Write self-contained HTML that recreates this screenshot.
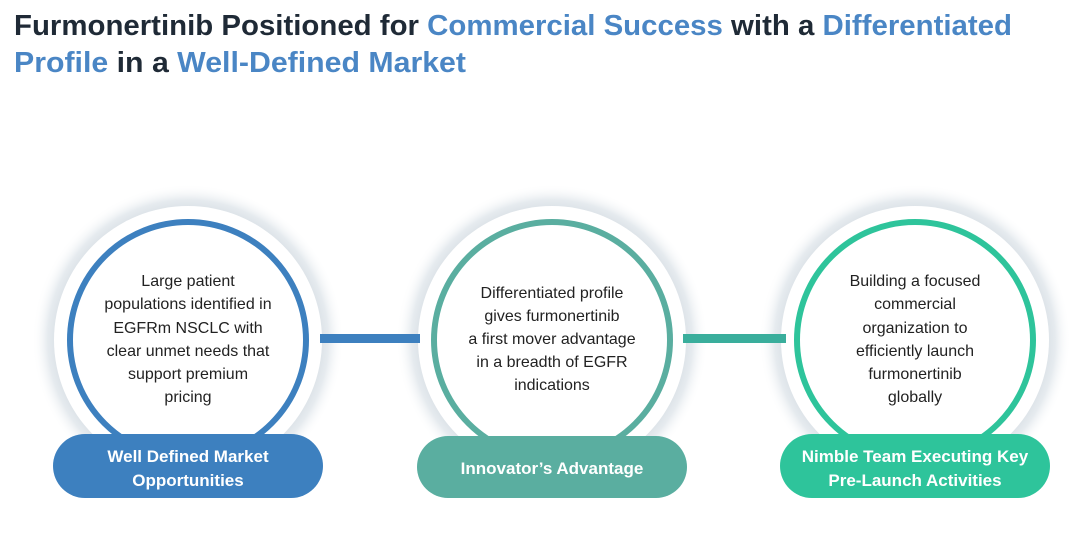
<!DOCTYPE html>
<html><head><meta charset="utf-8"><style>
html,body{margin:0;padding:0;background:#fff;width:1080px;height:553px;overflow:hidden}
svg{display:block}
</style></head><body>
<svg width="1080" height="553" viewBox="0 0 1080 553" xmlns="http://www.w3.org/2000/svg" font-family="'Liberation Sans', sans-serif">
<defs>
<radialGradient id="halo" cx="0.5" cy="0.5" r="0.5">
<stop offset="0.78" stop-color="#cfd7de"/><stop offset="0.9" stop-color="#e6ebef"/><stop offset="1" stop-color="#ffffff" stop-opacity="0"/>
</radialGradient>
</defs>
<text x="14" y="35" font-size="29" font-weight="bold" fill="#1f2a36" textLength="998" lengthAdjust="spacingAndGlyphs">Furmonertinib Positioned for <tspan fill="#4a86c5">Commercial Success</tspan> with a <tspan fill="#4a86c5">Differentiated</tspan></text>
<text x="14" y="72" font-size="29" font-weight="bold" fill="#4a86c5" textLength="452" lengthAdjust="spacingAndGlyphs">Profile <tspan fill="#1f2a36">in a </tspan>Well-Defined Market</text>

<rect x="300" y="334" width="150" height="9" fill="#3d80bf"/>
<rect x="660" y="334" width="150" height="9" fill="#3aae9c"/>

<circle cx="188" cy="340" r="156" fill="url(#halo)"/>
<circle cx="552" cy="340" r="156" fill="url(#halo)"/>
<circle cx="915" cy="340" r="156" fill="url(#halo)"/>
<circle cx="188" cy="340" r="134" fill="#fff"/>
<circle cx="552" cy="340" r="134" fill="#fff"/>
<circle cx="915" cy="340" r="134" fill="#fff"/>
<circle cx="188" cy="340" r="118" fill="#fff" stroke="#3d80bf" stroke-width="6"/>
<circle cx="552" cy="340" r="118" fill="#fff" stroke="#5aaea0" stroke-width="6"/>
<circle cx="915" cy="340" r="118" fill="#fff" stroke="#2ec49b" stroke-width="6"/>
<rect x="320" y="334" width="100" height="9" fill="#3d80bf"/>
<rect x="683" y="334" width="103" height="9" fill="#3aae9c"/>
<circle cx="188" cy="340" r="134" fill="none" stroke="#fff" stroke-width="0"/>

<g font-size="16" fill="#222" text-anchor="middle">
<text x="188" y="286">Large patient</text>
<text x="188" y="309">populations identified in</text>
<text x="188" y="333">EGFRm NSCLC with</text>
<text x="188" y="356">clear unmet needs that</text>
<text x="188" y="379">support premium</text>
<text x="188" y="402">pricing</text>
<text x="552" y="298">Differentiated profile</text>
<text x="552" y="321">gives furmonertinib</text>
<text x="552" y="344">a first mover advantage</text>
<text x="552" y="367">in a breadth of EGFR</text>
<text x="552" y="390">indications</text>
<text x="915" y="286">Building a focused</text>
<text x="915" y="309">commercial</text>
<text x="915" y="333">organization to</text>
<text x="915" y="356">efficiently launch</text>
<text x="915" y="379">furmonertinib</text>
<text x="915" y="402">globally</text>
</g>

<rect x="53" y="434" width="270" height="64" rx="32" fill="#3d80bf"/>
<rect x="417" y="436" width="270" height="62" rx="31" fill="#5aaea0"/>
<rect x="780" y="434" width="270" height="64" rx="32" fill="#2ec49b"/>
<g font-size="17" font-weight="bold" fill="#fff" text-anchor="middle">
<text x="188" y="462">Well Defined Market</text>
<text x="188" y="486">Opportunities</text>
<text x="552" y="474">Innovator’s Advantage</text>
<text x="915" y="462">Nimble Team Executing Key</text>
<text x="915" y="486">Pre-Launch Activities</text>
</g>
</svg>
</body></html>
